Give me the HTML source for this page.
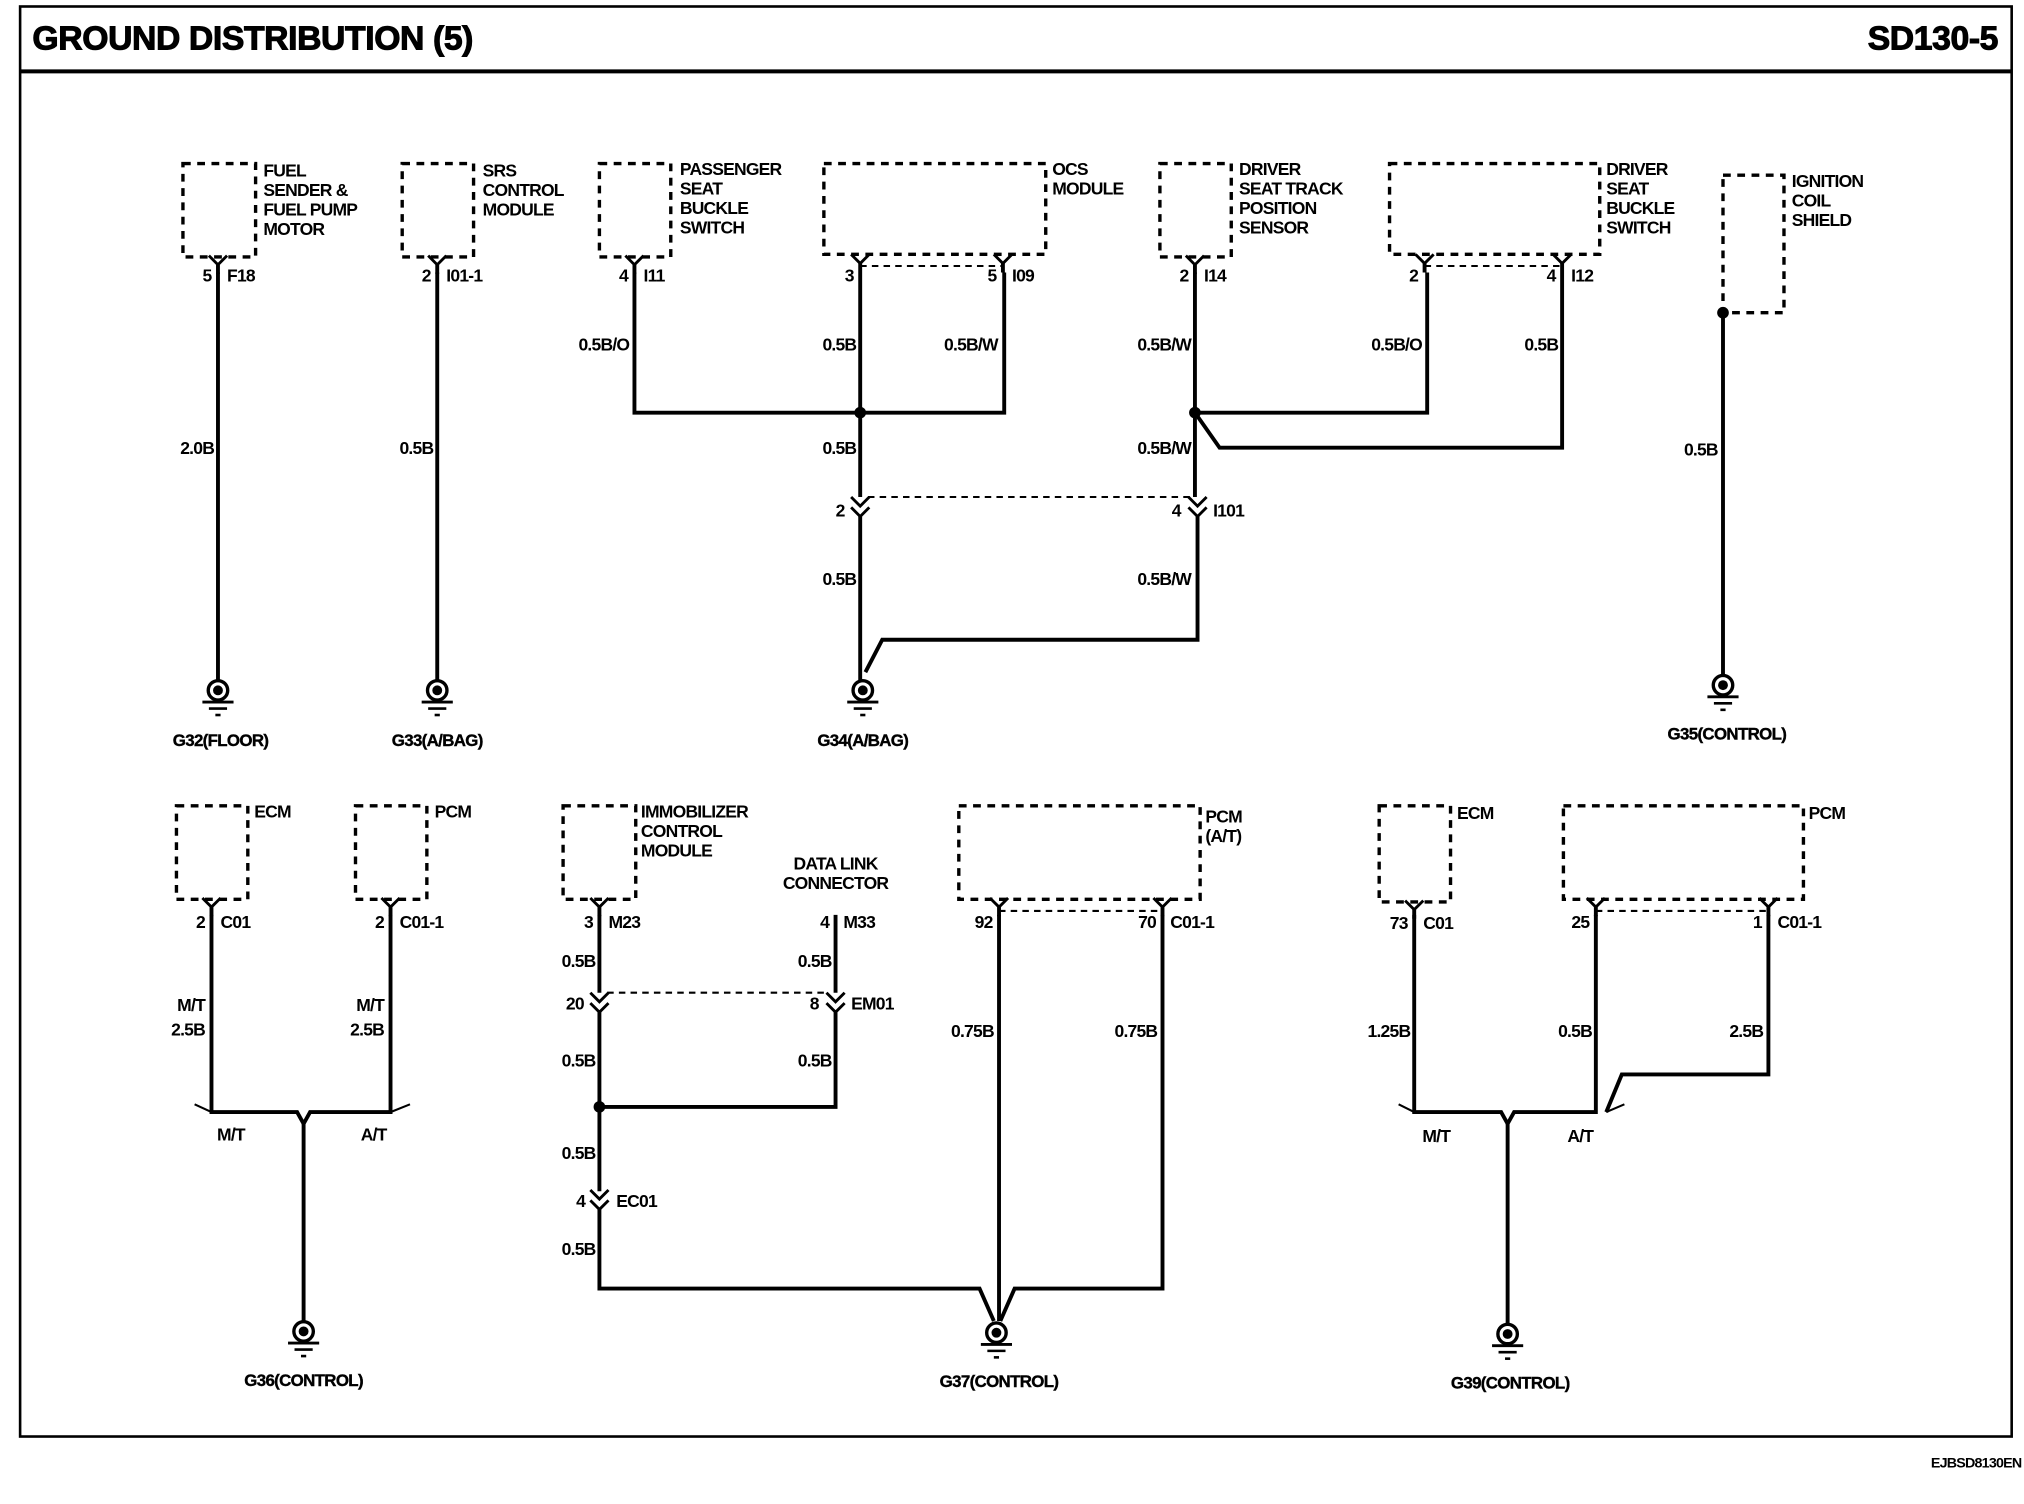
<!DOCTYPE html>
<html><head><meta charset="utf-8"><style>
html,body{margin:0;padding:0;background:#fff;}
svg{display:block;}
text{font-family:"Liberation Sans",sans-serif;font-weight:bold;fill:#000;}
.l{font-size:13.5px;letter-spacing:-0.6px;}
.g{font-size:13px;letter-spacing:-0.5px;font-weight:normal;stroke:#000;stroke-width:0.3;}
</style></head><body>
<svg width="2024" height="1504" viewBox="0 0 1560 1159" preserveAspectRatio="none" xmlns="http://www.w3.org/2000/svg">
<defs>
<g id="gnd">
<circle cx="0" cy="0" r="7.5" fill="none" stroke="#000" stroke-width="2.6"/>
<circle cx="0" cy="0" r="3.8" fill="#000"/>
<line x1="-12" y1="9" x2="12" y2="9" stroke="#000" stroke-width="2.2"/>
<line x1="-7" y1="14" x2="7" y2="14" stroke="#000" stroke-width="2"/>
<line x1="-2" y1="19" x2="2" y2="19" stroke="#000" stroke-width="2"/>
</g>
<g id="pin"><path d="M-7,0 L0,7 L7,0" fill="none" stroke="#000" stroke-width="2.2"/><line x1="0" y1="7" x2="0" y2="14" stroke="#000" stroke-width="3"/></g>
<g id="dpin"><path d="M-7,0 L0,7 L7,0 M-7,8 L0,15 L7,8" fill="none" stroke="#000" stroke-width="2.2"/></g>
</defs>
<rect x="15.5" y="5" width="1535" height="1102" fill="none" stroke="#000" stroke-width="2"/>
<line x1="15" y1="55" x2="1550" y2="55" stroke="#000" stroke-width="3"/>
<text x="25" y="38" style="font-size:26px;letter-spacing:-0.3px;stroke:#000;stroke-width:0.8">GROUND DISTRIBUTION (5)</text>
<text x="1540" y="38" text-anchor="end" style="font-size:26px;letter-spacing:-0.3px;stroke:#000;stroke-width:0.8">SD130-5</text>
<text x="1558" y="1131" text-anchor="end" style="font-size:11px;letter-spacing:-0.6px">EJBSD8130EN</text>

<g fill="none" stroke="#000" stroke-width="2.6" stroke-dasharray="6,5">
<rect x="141" y="126" width="56" height="72"/>
<rect x="310" y="126" width="55" height="72"/>
<rect x="462" y="126" width="55" height="72"/>
<rect x="635" y="126" width="171" height="70"/>
<rect x="894" y="126" width="55" height="72"/>
<rect x="1071" y="126" width="162" height="70"/>
<rect x="1328" y="135" width="47" height="106"/>
<rect x="136" y="621" width="55" height="72"/>
<rect x="274" y="621" width="55" height="72"/>
<rect x="434" y="621" width="56" height="72"/>
<rect x="739" y="621" width="186" height="72"/>
<rect x="1063" y="621" width="55" height="74"/>
<rect x="1205" y="621" width="185" height="72"/>
</g>
<g fill="none" stroke="#000" stroke-width="1.6" stroke-dasharray="5,4">
<line x1="663" y1="205" x2="773" y2="205"/>
<line x1="1098" y1="205" x2="1204" y2="205"/>
<line x1="669" y1="383" x2="917" y2="383"/>
<line x1="770" y1="702" x2="896" y2="702"/>
<line x1="1230" y1="702" x2="1363" y2="702"/>
<line x1="468" y1="765" x2="638" y2="765"/>
</g>

<g fill="none" stroke="#000" stroke-width="3">
<line x1="168" y1="210" x2="168" y2="524"/>
<line x1="337" y1="210" x2="337" y2="524"/>
<polyline points="489,210 489,318 774,318 774,210"/>
<line x1="663" y1="210" x2="663" y2="383"/>
<line x1="663" y1="398" x2="663" y2="524"/>
<polyline points="923,398 923,493 680,493 667,518"/>
<line x1="921" y1="210" x2="921" y2="383"/>
<polyline points="921,318 1100,318 1100,210"/>
<polyline points="921,318 940,345 1204,345 1204,210"/>
<line x1="1328" y1="241" x2="1328" y2="521"/>
<polyline points="163,705 163,857 229,857 234,866 239,857 301,857 301,705"/>
<line x1="234" y1="866" x2="234" y2="1019"/>
<polyline points="462,705 462,765"/>
<polyline points="644,705 644,765"/>
<line x1="462" y1="780" x2="462" y2="918"/>
<polyline points="644,780 644,853 462,853"/>
<polyline points="462,932 462,993 755,993 766,1018"/>
<line x1="770" y1="705" x2="770" y2="1018"/>
<polyline points="896,705 896,993 782,993 771,1018"/>
<polyline points="1090,705 1090,857 1157,857 1162,866 1167,857 1230,857 1230,705"/>
<polyline points="1363,705 1363,828 1250,828 1238,857"/>
<line x1="1162" y1="866" x2="1162" y2="1021"/>
</g>
<g stroke="#000" stroke-width="1.6" fill="none">
<line x1="150" y1="851" x2="163" y2="857"/><line x1="301" y1="857" x2="316" y2="851"/>
<line x1="1078" y1="851" x2="1090" y2="857"/><line x1="1238" y1="857" x2="1252" y2="851"/>
</g>
<g fill="#000">
<circle cx="663" cy="318" r="4.5"/><circle cx="921" cy="318" r="4.5"/>
<circle cx="1328" cy="241" r="4.5"/><circle cx="462" cy="853" r="4.5"/>
</g>

<use href="#pin" x="168" y="197"/><use href="#pin" x="337" y="197"/><use href="#pin" x="489" y="197"/>
<use href="#pin" x="663" y="196"/><use href="#pin" x="773" y="196"/><use href="#pin" x="921" y="197"/>
<use href="#pin" x="1098" y="196"/><use href="#pin" x="1204" y="196"/>
<use href="#pin" x="163" y="692"/><use href="#pin" x="301" y="692"/><use href="#pin" x="462" y="692"/>
<use href="#pin" x="770" y="692"/><use href="#pin" x="896" y="692"/><use href="#pin" x="1090" y="694"/>
<use href="#pin" x="1230" y="692"/><use href="#pin" x="1363" y="692"/>
<use href="#dpin" x="663" y="383"/><use href="#dpin" x="923" y="383"/>
<use href="#dpin" x="462" y="765"/><use href="#dpin" x="644" y="765"/><use href="#dpin" x="462" y="917"/>

<use href="#gnd" x="168" y="532"/><use href="#gnd" x="337" y="532"/><use href="#gnd" x="665" y="532"/>
<use href="#gnd" x="1328" y="528"/><use href="#gnd" x="234" y="1026"/><use href="#gnd" x="768" y="1027"/>
<use href="#gnd" x="1162" y="1028"/>

<g class="l">
<text x="203" y="136">FUEL</text><text x="203" y="151">SENDER &amp;</text><text x="203" y="166">FUEL PUMP</text><text x="203" y="181">MOTOR</text>
<text x="372" y="136">SRS</text><text x="372" y="151">CONTROL</text><text x="372" y="166">MODULE</text>
<text x="524" y="135">PASSENGER</text><text x="524" y="150">SEAT</text><text x="524" y="165">BUCKLE</text><text x="524" y="180">SWITCH</text>
<text x="811" y="135">OCS</text><text x="811" y="150">MODULE</text>
<text x="955" y="135">DRIVER</text><text x="955" y="150">SEAT TRACK</text><text x="955" y="165">POSITION</text><text x="955" y="180">SENSOR</text>
<text x="1238" y="135">DRIVER</text><text x="1238" y="150">SEAT</text><text x="1238" y="165">BUCKLE</text><text x="1238" y="180">SWITCH</text>
<text x="1381" y="144">IGNITION</text><text x="1381" y="159">COIL</text><text x="1381" y="174">SHIELD</text>
<text x="196" y="630">ECM</text><text x="335" y="630">PCM</text>
<text x="494" y="630">IMMOBILIZER</text><text x="494" y="645">CONTROL</text><text x="494" y="660">MODULE</text>
<text x="644" y="670" text-anchor="middle">DATA LINK</text><text x="644" y="685" text-anchor="middle">CONNECTOR</text>
<text x="929" y="634">PCM</text><text x="929" y="649">(A/T)</text>
<text x="1123" y="631">ECM</text><text x="1394" y="631">PCM</text>

<text x="163" y="217" text-anchor="end">5</text><text x="175" y="217">F18</text>
<text x="332" y="217" text-anchor="end">2</text><text x="344" y="217">I01-1</text>
<text x="484" y="217" text-anchor="end">4</text><text x="496" y="217">I11</text>
<text x="658" y="217" text-anchor="end">3</text>
<text x="768" y="217" text-anchor="end">5</text><text x="780" y="217">I09</text>
<text x="916" y="217" text-anchor="end">2</text><text x="928" y="217">I14</text>
<text x="1093" y="217" text-anchor="end">2</text>
<text x="1199" y="217" text-anchor="end">4</text><text x="1211" y="217">I12</text>
<text x="651" y="398" text-anchor="end">2</text>
<text x="910" y="398" text-anchor="end">4</text><text x="935" y="398">I101</text>
<text x="485" y="270" text-anchor="end">0.5B/O</text>
<text x="660" y="270" text-anchor="end">0.5B</text>
<text x="769" y="270" text-anchor="end">0.5B/W</text>
<text x="918" y="270" text-anchor="end">0.5B/W</text>
<text x="1096" y="270" text-anchor="end">0.5B/O</text>
<text x="1201" y="270" text-anchor="end">0.5B</text>
<text x="165" y="350" text-anchor="end">2.0B</text>
<text x="334" y="350" text-anchor="end">0.5B</text>
<text x="660" y="350" text-anchor="end">0.5B</text>
<text x="918" y="350" text-anchor="end">0.5B/W</text>
<text x="1324" y="351" text-anchor="end">0.5B</text>
<text x="660" y="451" text-anchor="end">0.5B</text>
<text x="918" y="451" text-anchor="end">0.5B/W</text>

<text x="158" y="715" text-anchor="end">2</text><text x="170" y="715">C01</text>
<text x="296" y="715" text-anchor="end">2</text><text x="308" y="715">C01-1</text>
<text x="457" y="715" text-anchor="end">3</text><text x="469" y="715">M23</text>
<text x="639" y="715" text-anchor="end">4</text><text x="650" y="715">M33</text>
<text x="765" y="715" text-anchor="end">92</text>
<text x="891" y="715" text-anchor="end">70</text><text x="902" y="715">C01-1</text>
<text x="1085" y="716" text-anchor="end">73</text><text x="1097" y="716">C01</text>
<text x="1225" y="715" text-anchor="end">25</text>
<text x="1358" y="715" text-anchor="end">1</text><text x="1370" y="715">C01-1</text>
<text x="158" y="779" text-anchor="end">M/T</text><text x="158" y="798" text-anchor="end">2.5B</text>
<text x="296" y="779" text-anchor="end">M/T</text><text x="296" y="798" text-anchor="end">2.5B</text>
<text x="459" y="745" text-anchor="end">0.5B</text><text x="641" y="745" text-anchor="end">0.5B</text>
<text x="450" y="778" text-anchor="end">20</text>
<text x="631" y="778" text-anchor="end">8</text><text x="656" y="778">EM01</text>
<text x="459" y="822" text-anchor="end">0.5B</text><text x="641" y="822" text-anchor="end">0.5B</text>
<text x="459" y="893" text-anchor="end">0.5B</text>
<text x="451" y="930" text-anchor="end">4</text><text x="475" y="930">EC01</text>
<text x="459" y="967" text-anchor="end">0.5B</text>
<text x="766" y="799" text-anchor="end">0.75B</text><text x="892" y="799" text-anchor="end">0.75B</text>
<text x="1087" y="799" text-anchor="end">1.25B</text><text x="1227" y="799" text-anchor="end">0.5B</text><text x="1359" y="799" text-anchor="end">2.5B</text>
<text x="178" y="879" text-anchor="middle">M/T</text><text x="288" y="879" text-anchor="middle">A/T</text>
<text x="1107" y="880" text-anchor="middle">M/T</text><text x="1218" y="880" text-anchor="middle">A/T</text>
</g>
<g class="g">
<text x="170" y="575" text-anchor="middle">G32(FLOOR)</text>
<text x="337" y="575" text-anchor="middle">G33(A/BAG)</text>
<text x="665" y="575" text-anchor="middle">G34(A/BAG)</text>
<text x="1331" y="570" text-anchor="middle">G35(CONTROL)</text>
<text x="234" y="1068" text-anchor="middle">G36(CONTROL)</text>
<text x="770" y="1069" text-anchor="middle">G37(CONTROL)</text>
<text x="1164" y="1070" text-anchor="middle">G39(CONTROL)</text>
</g>
</svg>
</body></html>
